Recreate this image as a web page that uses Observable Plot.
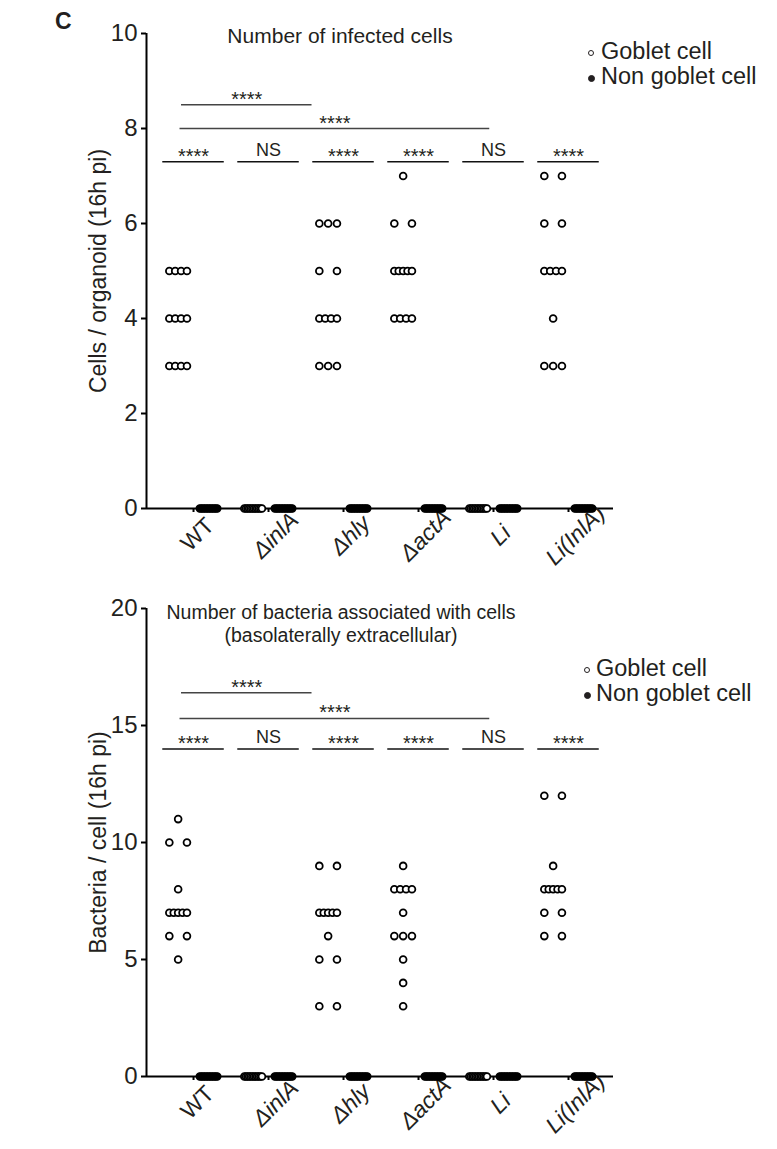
<!DOCTYPE html>
<html>
<head>
<meta charset="utf-8">
<script src="https://cdn.jsdelivr.net/npm/d3@7"></script>
<script src="https://cdn.jsdelivr.net/npm/@observablehq/plot@0.6"></script>
<style>
  body { margin: 0; background: #fff; font-family: "Liberation Sans", Arial, sans-serif; color: #231f20; }
  #wrap { position: relative; width: 777px; height: 1149px; overflow: hidden; }
  #wrap svg { display: block; }
  .abs { position: absolute; white-space: nowrap; line-height: 1; }
  .ttl { transform: translateX(-50%); text-align: center; }
  .lg { font-size: 23.5px; }
  .sym { position: absolute; width: 6px; height: 6px; border-radius: 50%; box-sizing: border-box; border: 1.2px solid #231f20; }
  .sym.fill { background: #231f20; width: 7px; height: 7px; }
</style>
</head>
<body>
<div id="wrap">
  <div id="top"></div>
  <div id="bottom"></div>
</div>
<script>
// ---------- data ----------
const strains = ["WT", "ΔinlA", "Δhly", "ΔactA", "Li", "Li(InlA)"];

// Number of infected cells (cells / organoid, 16h pi)
const infectedGoblet = [
  [5, 5, 5, 5, 4, 4, 4, 4, 3, 3, 3, 3],
  [0, 0, 0, 0, 0, 0, 0, 0, 0, 0, 0, 0],
  [6, 6, 6, 5, 5, 4, 4, 4, 4, 3, 3, 3],
  [7, 6, 6, 5, 5, 5, 5, 5, 4, 4, 4, 4],
  [0, 0, 0, 0, 0, 0, 0, 0, 0, 0, 0, 0],
  [7, 7, 6, 6, 5, 5, 5, 5, 4, 3, 3, 3]
];
const infectedNonGoblet = [
  [0, 0, 0, 0, 0, 0, 0, 0, 0, 0, 0, 0],
  [0, 0, 0, 0, 0, 0, 0, 0, 0, 0, 0, 0],
  [0, 0, 0, 0, 0, 0, 0, 0, 0, 0, 0, 0],
  [0, 0, 0, 0, 0, 0, 0, 0, 0, 0, 0, 0],
  [0, 0, 0, 0, 0, 0, 0, 0, 0, 0, 0, 0],
  [0, 0, 0, 0, 0, 0, 0, 0, 0, 0, 0, 0]
];

// Number of bacteria associated with cells (bacteria / cell, 16h pi)
const bacteriaGoblet = [
  [11, 10, 10, 8, 7, 7, 7, 7, 7, 6, 6, 5],
  [0, 0, 0, 0, 0, 0, 0, 0, 0, 0, 0, 0],
  [9, 9, 7, 7, 7, 7, 7, 6, 5, 5, 3, 3],
  [9, 8, 8, 8, 8, 7, 6, 6, 6, 5, 4, 3],
  [0, 0, 0, 0, 0, 0, 0, 0, 0, 0, 0, 0],
  [12, 12, 9, 8, 8, 8, 8, 8, 7, 7, 6, 6]
];
const bacteriaNonGoblet = [
  [0, 0, 0, 0, 0, 0, 0, 0, 0, 0, 0, 0],
  [0, 0, 0, 0, 0, 0, 0, 0, 0, 0, 0, 0],
  [0, 0, 0, 0, 0, 0, 0, 0, 0, 0, 0, 0],
  [0, 0, 0, 0, 0, 0, 0, 0, 0, 0, 0, 0],
  [0, 0, 0, 0, 0, 0, 0, 0, 0, 0, 0, 0],
  [0, 0, 0, 0, 0, 0, 0, 0, 0, 0, 0, 0]
];

// significance: goblet vs non goblet per strain, and WT vs ΔinlA / WT vs Li
const rowLabels = ["****", "NS", "****", "****", "NS", "****"];
const compLabels = ["****", "****"];
const compFrom = [-0.16, -0.18];
const compTo = [1.58, 3.95];

const yTicksTop = [0, 2, 4, 6, 8, 10];
const yTicksBottom = [0, 5, 10, 15, 20];

// ---------- layout / style ----------
const FONT = '"Liberation Sans", Arial, sans-serif';
const INK = "#231f20";
const XDOMAIN = [-0.627, 5.6];
const SIDE_GOBLET = -0.205, SIDE_NON = 0.2, SPREAD = 0.235;

function swarm(series, side) {
  const out = [];
  series.forEach((vals, i) => {
    const counts = d3.rollup(vals, v => v.length, d => d);
    const seen = new Map();
    for (const v of vals) {
      const n = counts.get(v), k = seen.get(v) || 0;
      seen.set(v, k + 1);
      out.push({x: i + side + (n === 1 ? 0 : -SPREAD / 2 + k * SPREAD / (n - 1)), y: v});
    }
  });
  return out;
}

function panel({goblet, nonGoblet, yMax, yTicks, rowY, compY, ylabel, height, marginTop, marginBottom}) {
  const gob = swarm(goblet, SIDE_GOBLET);
  const non = swarm(nonGoblet, SIDE_NON);
  const comps = compLabels.map((label, i) => ({label, x1: compFrom[i], x2: compTo[i], y: compY[i]}));
  return Plot.plot({
    width: 777, height, marginTop, marginBottom, marginLeft: 146, marginRight: 164,
    x: {domain: XDOMAIN},
    y: {domain: [0, yMax]},
    style: {fontFamily: FONT, color: INK, background: "transparent", overflow: "visible"},
    marks: [
      Plot.axisY({ticks: yTicks, tickSize: 5, tickPadding: 4, fontSize: 24, label: null, strokeWidth: 2, stroke: "#000", fill: INK}),
      Plot.axisX({ticks: d3.range(strains.length), tickSize: 4, tickFormat: () => "", label: null, strokeWidth: 2, stroke: "#000"}),
      Plot.ruleY([0], {strokeWidth: 2, stroke: "#000"}),
      Plot.ruleX([XDOMAIN[0]], {y1: 0, y2: yMax, strokeWidth: 2, stroke: "#000"}),
      Plot.text([ylabel], {frameAnchor: "left", textAnchor: "middle", lineAnchor: "middle", rotate: -90, dx: -48, fontSize: 23, fill: INK}),
      Plot.text(strains, {x: (d, i) => i, filter: (d, i) => i === 0, frameAnchor: "bottom", textAnchor: "middle", lineAnchor: "middle", rotate: -45, dx: 4, dy: 26, fontSize: 23, fill: INK}),
      Plot.text(strains, {x: (d, i) => i, filter: (d, i) => i > 0, frameAnchor: "bottom", textAnchor: "middle", lineAnchor: "middle", rotate: -45, dx: 7, dy: 27, fontSize: 23, fontStyle: "italic", fill: INK}),
      // per-strain comparison row
      Plot.ruleY(rowLabels, {y: rowY, x1: (d, i) => i - 0.41, x2: (d, i) => i + 0.41, strokeWidth: 1.5, stroke: "#111"}),
      Plot.text(rowLabels, {x: (d, i) => i, y: rowY, filter: d => d !== "NS", lineAnchor: "bottom", dy: 1, fontSize: 20, fill: INK}),
      Plot.text(rowLabels, {x: (d, i) => i, y: rowY, filter: d => d === "NS", lineAnchor: "bottom", dy: -6, fontSize: 18, fill: INK}),
      // between-strain brackets
      Plot.ruleY(comps, {y: "y", x1: "x1", x2: "x2", strokeWidth: 1.5, stroke: "#444"}),
      Plot.text(comps, {x: d => (d.x1 + d.x2) / 2, y: "y", text: "label", lineAnchor: "bottom", dy: 1, fontSize: 20, fill: INK}),
      // points
      Plot.dot(non, {x: "x", y: "y", r: 3.4, fill: "#000", stroke: "#000", strokeWidth: 1.6}),
      Plot.dot(gob, {x: "x", y: "y", r: 3.4, fill: "#fff", stroke: "#000", strokeWidth: 1.8})
    ]
  });
}

document.getElementById("top").append(panel({
  goblet: infectedGoblet, nonGoblet: infectedNonGoblet, yMax: 10, yTicks: yTicksTop,
  rowY: 7.3, compY: [8.5, 8.0], ylabel: "Cells / organoid (16h pi)",
  height: 580, marginTop: 33, marginBottom: 72
}));
document.getElementById("bottom").append(panel({
  goblet: bacteriaGoblet, nonGoblet: bacteriaNonGoblet, yMax: 20, yTicks: yTicksBottom,
  rowY: 14, compY: [16.4, 15.3], ylabel: "Bacteria / cell (16h pi)",
  height: 569, marginTop: 28, marginBottom: 73
}));

// ---------- titles, legends, panel letter ----------
const wrap = document.getElementById("wrap");
function addText(html, cls, left, top, extra = "") {
  const d = document.createElement("div");
  d.className = "abs " + cls;
  d.style.left = left + "px";
  d.style.top = top + "px";
  if (extra) d.style.cssText += extra;
  d.innerHTML = html;
  wrap.append(d);
  return d;
}
addText("C", "", 55, 10, "font-size:23px;font-weight:bold;");
addText("Number of infected cells", "ttl", 340, 25, "font-size:21px;");
addText("Number of bacteria associated with cells", "ttl", 341, 603, "font-size:19.5px;");
addText("(basolaterally extracellular)", "ttl", 341, 626, "font-size:19.5px;");

function legend(cx, tx, top1, top2) {
  addText("Goblet cell", "lg", tx, top1);
  addText("Non goblet cell", "lg", tx, top2);
  const s1 = document.createElement("span"); s1.className = "sym";
  s1.style.left = (cx - 3) + "px"; s1.style.top = (top1 + 10) + "px";
  const s2 = document.createElement("span"); s2.className = "sym fill";
  s2.style.left = (cx - 3.5) + "px"; s2.style.top = (top2 + 9.5) + "px";
  wrap.append(s1, s2);
}
legend(591, 601, 40, 65);
legend(587, 596, 657, 682);
</script>
</body>
</html>
